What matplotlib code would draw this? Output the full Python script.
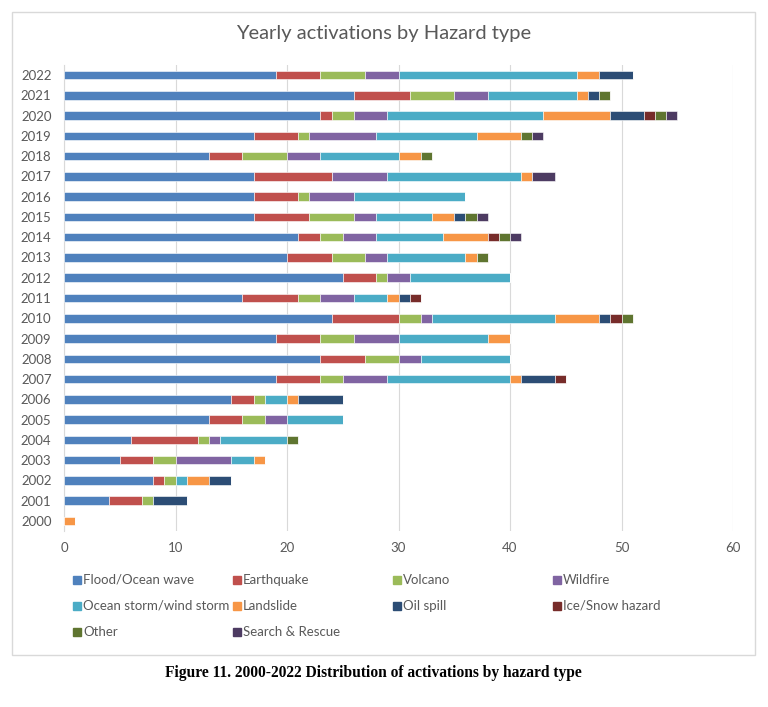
import matplotlib.pyplot as plt
from matplotlib.patches import Rectangle
import numpy as np

plt.rcParams['font.family'] = ['Lato', 'DejaVu Sans']

years = [str(y) for y in range(2000, 2023)]

hazards = ['Flood/Ocean wave', 'Earthquake', 'Volcano', 'Wildfire',
           'Ocean storm/wind storm', 'Landslide', 'Oil spill', 'Ice/Snow hazard',
           'Other', 'Search & Rescue']

flood = [0, 4, 8, 5, 6, 13, 15, 19, 23, 19, 24, 16, 25, 20, 21, 17, 17, 17, 13, 17, 23, 26, 19]
earthquake = [0, 3, 1, 3, 6, 3, 2, 4, 4, 4, 6, 5, 3, 4, 2, 5, 4, 7, 3, 4, 1, 5, 4]
volcano = [0, 1, 1, 2, 1, 2, 1, 2, 3, 3, 2, 2, 1, 3, 2, 4, 1, 0, 4, 1, 2, 4, 4]
wildfire = [0, 0, 0, 5, 1, 2, 0, 4, 2, 4, 1, 3, 2, 2, 3, 2, 4, 5, 3, 6, 3, 3, 3]
storm = [0, 0, 1, 2, 6, 5, 2, 11, 8, 8, 11, 3, 9, 7, 6, 5, 10, 12, 7, 9, 14, 8, 16]
landslide = [1, 0, 2, 1, 0, 0, 1, 1, 0, 2, 4, 1, 0, 1, 4, 2, 0, 1, 2, 4, 6, 1, 2]
oil_spill = [0, 3, 2, 0, 0, 0, 4, 3, 0, 0, 1, 1, 0, 0, 0, 1, 0, 0, 0, 0, 3, 1, 3]
ice_snow = [0, 0, 0, 0, 0, 0, 0, 1, 0, 0, 1, 1, 0, 0, 1, 0, 0, 0, 0, 0, 1, 0, 0]
other = [0, 0, 0, 0, 1, 0, 0, 0, 0, 0, 1, 0, 0, 1, 1, 1, 0, 0, 1, 1, 1, 1, 0]
search_rescue = [0, 0, 0, 0, 0, 0, 0, 0, 0, 0, 0, 0, 0, 0, 1, 1, 0, 2, 0, 1, 1, 0, 0]

series = [flood, earthquake, volcano, wildfire, storm, landslide,
          oil_spill, ice_snow, other, search_rescue]
colors = ['#4F81BD', '#C0504D', '#9BBB59', '#8064A2', '#4BACC6',
          '#F79646', '#2C4D75', '#772C2A', '#5F7530', '#4D3B62']

W, H = 768, 707
fig = plt.figure(figsize=(W / 100, H / 100), dpi=100)

# outer chart frame
fig.patches.append(Rectangle((12 / W, 1 - 655 / H), 743 / W, 643 / H,
                             transform=fig.transFigure, fill=False,
                             edgecolor='#D9D9D9', linewidth=1))

ax = fig.add_axes([64 / W, 1 - 531 / H, (733 - 64) / W, (531 - 65) / H])

ypos = np.arange(len(years))
left = np.zeros(len(years))
for vals, col, name in zip(series, colors, hazards):
    ax.barh(ypos, vals, left=left, height=0.42, color=col,
            edgecolor='white', linewidth=0.4, label=name, zorder=3)
    left += np.array(vals)

ax.set_xlim(0, 60)
ax.set_ylim(-0.5, len(years) - 0.5)
ax.set_xticks(range(0, 61, 10))
ax.set_yticks(ypos)
ax.set_yticklabels(years)
ax.tick_params(length=0, labelsize=9.5, colors='#595959', pad=8)
ax.tick_params(axis='y', pad=9)
ax.grid(axis='x', color='#D9D9D9', linewidth=0.8, zorder=0)
for s in ['top', 'right', 'bottom']:
    ax.spines[s].set_visible(False)
ax.spines['left'].set_color('#D9D9D9')

fig.text(384 / W, 1 - 33 / H, 'Yearly activations by Hazard type',
         ha='center', va='center', fontsize=14.5, color='#595959')

# legend laid out in a 4-column grid
for i, (name, col) in enumerate(zip(hazards, colors)):
    cx = 73 + (i % 4) * 160
    cy = 580 + (i // 4) * 26
    fig.patches.append(Rectangle((cx / W, 1 - (cy + 4) / H), 8 / W, 8 / H,
                                 transform=fig.transFigure, color=col))
    fig.text((cx + 10) / W, 1 - cy / H, name, ha='left', va='center',
             fontsize=9.5, color='#595959')

fig.text(373 / W, 1 - 673 / H,
         'Figure 11. 2000-2022 Distribution of activations by hazard type',
         ha='center', va='center', fontsize=11.2, fontweight='bold',
         family='Liberation Serif', color='black')

fig.savefig('out.png', dpi=100)
